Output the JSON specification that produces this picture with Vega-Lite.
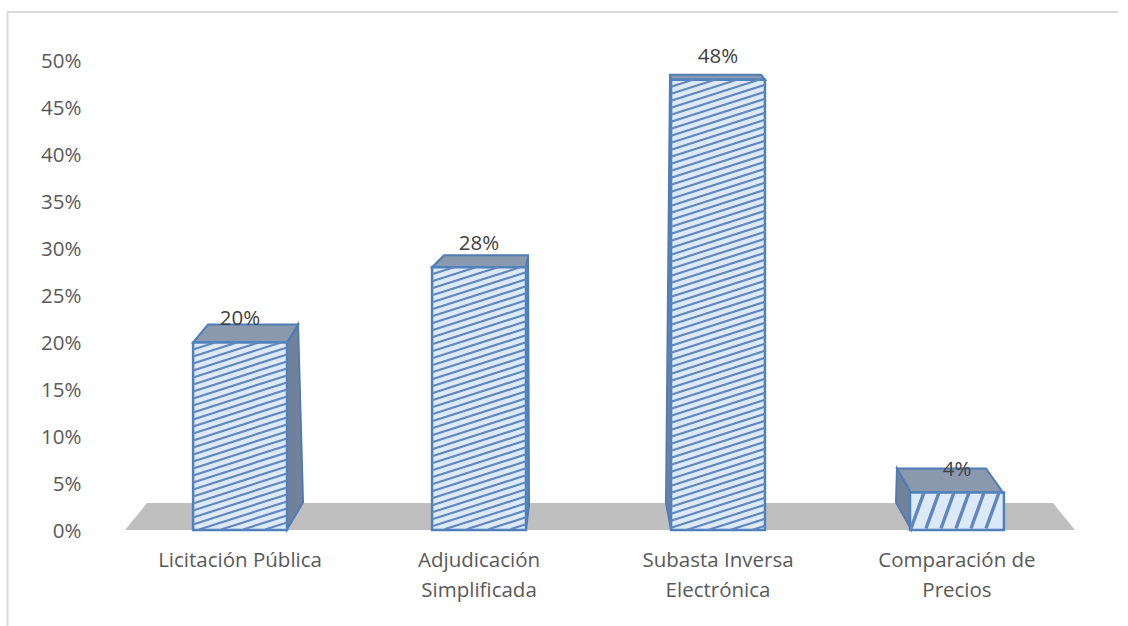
{
"$schema":"https://vega.github.io/schema/vega-lite/v6.json",
"width":1111,"height":614,
"autosize":"none",
"padding":{"left":7,"top":12,"right":10,"bottom":0},
"background":"white",
"config":{"view":{"stroke":null},"font":"Open Sans"},
"data":{"values":[
{"cat":"Licitación Pública","pct":20},
{"cat":"Adjudicación Simplificada","pct":28},
{"cat":"Subasta Inversa Electrónica","pct":48},
{"cat":"Comparación de Precios","pct":4}
]},
"resolve":{"scale":{"shape":"independent"}},
"layer":[
{"data":{"values":[{"top":55.22}]},"mark":{"type":"rule","color":"#d9d9d9","strokeWidth":2},
 "encoding":{"y":{"field":"top","type":"quantitative","scale":{"domain":[-10.23,55.22],"nice":false,"zero":false},
   "axis":{"title":null,"values":[0,5,10,15,20,25,30,35,40,45,50],"labelExpr":"datum.value+'%'","grid":false,"ticks":false,"tickSize":0,"domainColor":"#d9d9d9","domainWidth":2,"labelPadding":-74,"labelOffset":1,"labelAlign":"right","labelFont":"Open Sans","labelFontSize":20.5,"labelColor":"#595959"}}}},
{"data":{"values":[{"base":0}]},"mark":{"type":"point","filled":true,"opacity":1,"size":4,"fill":"#bfbfbf","strokeWidth":0,"shape":"M-437.5,0 L512.5,0 L490.5,-27 L-415.5,-27 Z"},
 "encoding":{"y":{"field":"base","type":"quantitative"}}},
{"mark":{"type":"point","filled":true,"opacity":1,"size":4,"fill":"#71829a","stroke":"#4f7cb5","strokeWidth":2},
 "encoding":{"x":{"field":"cat","type":"nominal","sort":null,"scale":{"type":"band","paddingInner":0.607,"paddingOuter":0.628,"align":0.62},
   "axis":{"title":null,"domain":false,"ticks":false,"tickSize":0,"labelAngle":0,"labelPadding":-66,"labelBaseline":"middle","labelFont":"Open Sans","labelFontSize":20.5,"labelColor":"#595959","labelLineHeight":30,"labelLimit":300,"labelExpr":"datum.value=='Adjudicación Simplificada'?['Adjudicación','Simplificada']:datum.value=='Subasta Inversa Electrónica'?['Subasta Inversa','Electrónica']:datum.value=='Comparación de Precios'?['Comparación de','Precios']:datum.value"}},
  "y":{"field":"pct","type":"quantitative"},
  "shape":{"field":"cat","type":"nominal","legend":null,"scale":{"domain":["Licitación Pública","Adjudicación Simplificada","Subasta Inversa Electrónica","Comparación de Precios"],"range":[
   "M47,0 L58,-18 L63,160 L47,187 Z",
   "M47,0 L49,-12 L50,238 L47,262 Z",
   "M-47,0 L-48,-5 L-52,423 L-47,450 Z",
   "M-46,0 L-60,-24 L-61,10 L-46,36.5 Z"]}}}},
{"mark":{"type":"point","filled":true,"opacity":1,"size":4,"fill":"#8a99ad","stroke":"#4f7cb5","strokeWidth":2},
 "encoding":{"x":{"field":"cat","type":"nominal","sort":null},
  "y":{"field":"pct","type":"quantitative"},
  "shape":{"field":"cat","type":"nominal","legend":null,"scale":{"domain":["Licitación Pública","Adjudicación Simplificada","Subasta Inversa Electrónica","Comparación de Precios"],"range":[
   "M-47,0 L47,0 L58,-18 L-32,-18 Z",
   "M-47,0 L47,0 L49,-12 L-35,-12 Z",
   "M-47,0 L47,0 L43,-5 L-48,-5 Z",
   "M-46,0 L46,0 L29,-24 L-60,-24 Z"]}}}},
{"mark":{"type":"bar","fill":"#dce9f8","stroke":"#4f81bd","strokeWidth":2.5},
 "encoding":{"x":{"field":"cat","type":"nominal","sort":null},"y":{"field":"pct","type":"quantitative","stack":null}}},
{"mark":{"type":"point","filled":false,"opacity":1,"size":4,"stroke":"#5f86bd"},
 "encoding":{"x":{"field":"cat","type":"nominal","sort":null},
  "y":{"field":"pct","type":"quantitative"},
  "strokeWidth":{"condition":{"test":"datum.pct==4","value":3.4},"value":2.1},
  "shape":{"field":"cat","type":"nominal","legend":null,"scale":{"domain":["Licitación Pública","Adjudicación Simplificada","Subasta Inversa Electrónica","Comparación de Precios"],"range":[
   "M-47,7 l22,-7 M-47,14 l44,-14 M-47,21 l66,-21 M-47,28 l88,-28 M-47,35 l94,-30 m-94,37 l94,-30 m-94,37 l94,-30 m-94,37 l94,-30 m-94,37 l94,-30 m-94,37 l94,-30 m-94,37 l94,-30 m-94,37 l94,-30 m-94,37 l94,-30 m-94,37 l94,-30 m-94,37 l94,-30 m-94,37 l94,-30 m-94,37 l94,-30 m-94,37 l94,-30 m-94,37 l94,-30 m-94,37 l94,-30 m-94,37 l94,-30 m-94,37 l94,-30 m-94,37 l94,-30 m-94,37 l94,-30 m-94,37 l94,-30 M-47,175 l94,-30 M-47,182 l94,-30 M-41,187 L47,159 M-19,187 L47,166 M3,187 L47,173 M25,187 L47,180",
   "M-47,7 l22,-7 M-47,14 l44,-14 M-47,21 l66,-21 M-47,28 l88,-28 M-47,35 l94,-30 m-94,37 l94,-30 m-94,37 l94,-30 m-94,37 l94,-30 m-94,37 l94,-30 m-94,37 l94,-30 m-94,37 l94,-30 m-94,37 l94,-30 m-94,37 l94,-30 m-94,37 l94,-30 m-94,37 l94,-30 m-94,37 l94,-30 m-94,37 l94,-30 m-94,37 l94,-30 m-94,37 l94,-30 m-94,37 l94,-30 m-94,37 l94,-30 m-94,37 l94,-30 m-94,37 l94,-30 m-94,37 l94,-30 m-94,37 l94,-30 m-94,37 l94,-30 m-94,37 l94,-30 m-94,37 l94,-30 m-94,37 l94,-30 m-94,37 l94,-30 m-94,37 l94,-30 m-94,37 l94,-30 m-94,37 l94,-30 m-94,37 l94,-30 m-94,37 l94,-30 m-94,37 l94,-30 M-47,252 l94,-30 M-47,259 l94,-30 M-34.5,262 L47,236 M-12.5,262 L47,243 M9.4,262 L47,250 M31.3,262 L47,257",
   "M-47,7 l22,-7 M-47,14 l44,-14 M-47,21 l66,-21 M-47,28 l88,-28 M-47,35 l94,-30 m-94,37 l94,-30 m-94,37 l94,-30 m-94,37 l94,-30 m-94,37 l94,-30 m-94,37 l94,-30 m-94,37 l94,-30 m-94,37 l94,-30 m-94,37 l94,-30 m-94,37 l94,-30 m-94,37 l94,-30 m-94,37 l94,-30 m-94,37 l94,-30 m-94,37 l94,-30 m-94,37 l94,-30 m-94,37 l94,-30 m-94,37 l94,-30 m-94,37 l94,-30 m-94,37 l94,-30 m-94,37 l94,-30 m-94,37 l94,-30 m-94,37 l94,-30 m-94,37 l94,-30 m-94,37 l94,-30 m-94,37 l94,-30 m-94,37 l94,-30 m-94,37 l94,-30 m-94,37 l94,-30 m-94,37 l94,-30 m-94,37 l94,-30 m-94,37 l94,-30 m-94,37 l94,-30 m-94,37 l94,-30 m-94,37 l94,-30 m-94,37 l94,-30 m-94,37 l94,-30 m-94,37 l94,-30 m-94,37 l94,-30 m-94,37 l94,-30 m-94,37 l94,-30 m-94,37 l94,-30 m-94,37 l94,-30 m-94,37 l94,-30 m-94,37 l94,-30 m-94,37 l94,-30 m-94,37 l94,-30 m-94,37 l94,-30 m-94,37 l94,-30 m-94,37 l94,-30 m-94,37 l94,-30 m-94,37 l94,-30 M-47,385 l94,-30 M-47,392 l94,-30 M-47,399 l94,-30 m-94,37 l94,-30 m-94,37 l94,-30 m-94,37 l94,-30 m-94,37 l94,-30 m-94,37 l94,-30 m-94,37 l94,-30 m-94,37 l94,-30 M-31,450 L47,425 M-9.4,450 L47,432 M12.5,450 L47,439 M34.5,450 L47,446",
   "M-46,36 l13,-36 M-31,36 l13,-36 M-16,36 l13,-36 M-1,36 l13,-36 M14,36 l13,-36 M29,36 l13,-36"]}}}},
{"transform":[{"calculate":"datum.pct+'%'","as":"label"}],
 "mark":{"type":"text","font":"Open Sans","fontSize":20.5,"color":"#404040","dy":-23},
 "encoding":{"x":{"field":"cat","type":"nominal","sort":null},"y":{"field":"pct","type":"quantitative"},
  "text":{"field":"label","type":"nominal"}}}
]
}
